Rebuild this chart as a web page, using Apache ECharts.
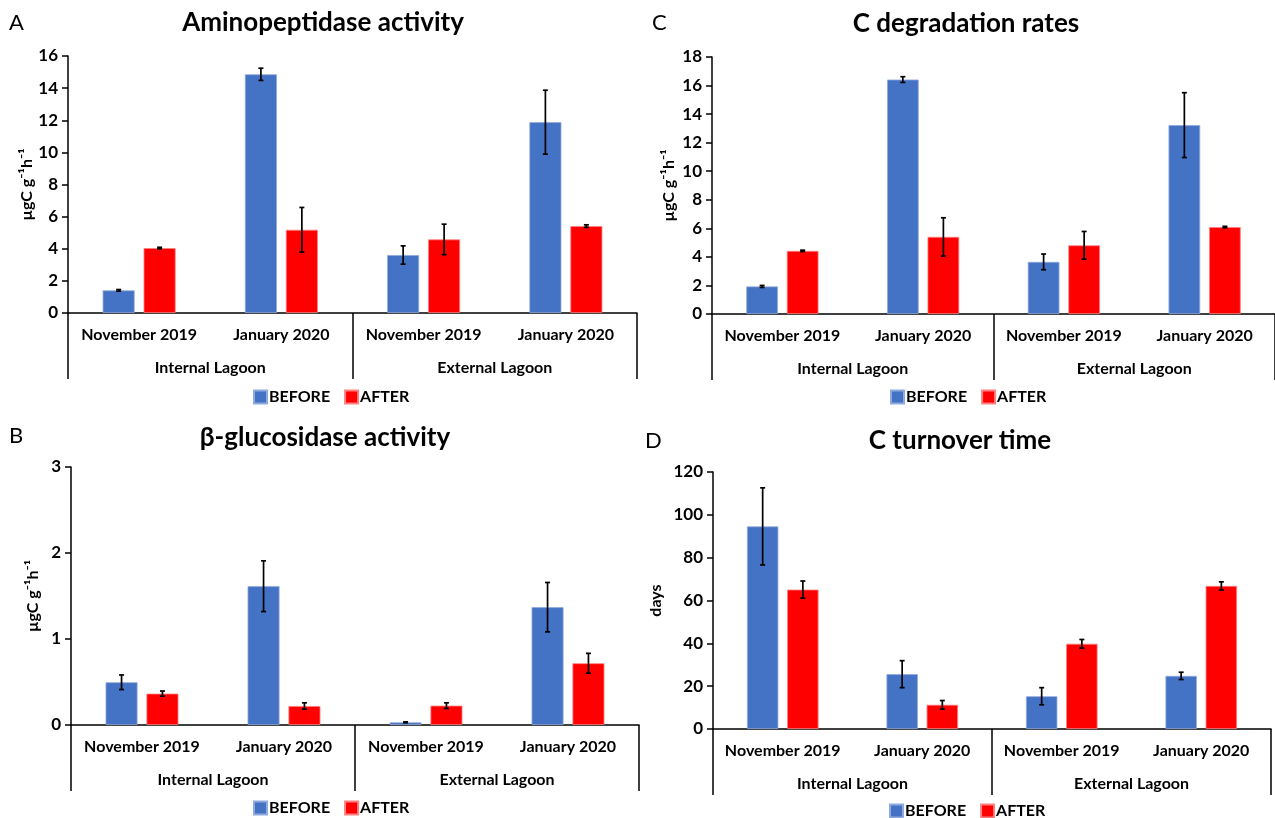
<!DOCTYPE html>
<html>
<head>
<meta charset="utf-8">
<script src="https://cdn.jsdelivr.net/npm/echarts@6/dist/echarts.min.js"></script>
<style>
html,body{margin:0;padding:0;background:#fff;}
#chart{width:1275px;height:818px;}
</style>
</head>
<body>
<div id="chart"></div>
<script>
// ---- Data ----
const months = ['November 2019', 'January 2020', 'November 2019', 'January 2020'];
const groups = ['Internal Lagoon', 'External Lagoon'];
const seriesNames = ['BEFORE', 'AFTER'];

// A: Aminopeptidase activity
const aminoBefore = [1.41, 14.86, 3.61, 11.88];
const aminoBeforeErr = [0.05, 0.38, 0.57, 1.99];
const aminoAfter = [4.04, 5.18, 4.58, 5.41];
const aminoAfterErr = [0.05, 1.39, 0.95, 0.08];

// C: C degradation rates
const degBefore = [1.93, 16.42, 3.65, 13.23];
const degBeforeErr = [0.07, 0.2, 0.55, 2.27];
const degAfter = [4.42, 5.40, 4.81, 6.09];
const degAfterErr = [0.05, 1.34, 0.97, 0.05];

// B: beta-glucosidase activity
const glucBefore = [0.497, 1.614, 0.031, 1.37];
const glucBeforeErr = [0.085, 0.295, 0.005, 0.287];
const glucAfter = [0.365, 0.221, 0.225, 0.718];
const glucAfterErr = [0.03, 0.037, 0.033, 0.115];

// D: C turnover time
const turnBefore = [94.6, 25.6, 15.3, 24.8];
const turnBeforeErr = [18, 6.3, 4, 1.7];
const turnAfter = [65.1, 11.3, 39.8, 66.8];
const turnAfterErr = [4, 2, 2, 1.9];

// ---- Layout / style ----
const FONT = 'Lato, "Open Sans", sans-serif';
const BLUE = '#4472C4';
const RED = '#FF0000';
const BAR_FRAC = 0.225;
const GAP_FRAC = 0.28;
const UNIT = '\u00b5gC g\u207b\u00b9h\u207b\u00b9';

const panels = [
  { letter: 'A', title: 'Aminopeptidase activity', grid: {left: 68, top: 56, width: 569, height: 257},
    max: 16, interval: 2, yName: UNIT, nameGap: 33,
    before: aminoBefore, beforeErr: aminoBeforeErr, after: aminoAfter, afterErr: aminoAfterErr,
    titleX: 323, titleY: 10, letterX: 9, letterY: 12, legendX: 253, legendY: 389 },
  { letter: 'C', title: 'C degradation rates', grid: {left: 712, top: 57, width: 564, height: 257},
    max: 18, interval: 2, yName: UNIT, nameGap: 35,
    before: degBefore, beforeErr: degBeforeErr, after: degAfter, afterErr: degAfterErr,
    titleX: 966, titleY: 11, letterX: 652, letterY: 12, legendX: 890, legendY: 389 },
  { letter: 'B', title: '\u03b2-glucosidase activity', grid: {left: 71, top: 467, width: 568, height: 258},
    max: 3, interval: 1, yName: UNIT, nameGap: 30,
    before: glucBefore, beforeErr: glucBeforeErr, after: glucAfter, afterErr: glucAfterErr,
    titleX: 325, titleY: 425, letterX: 9, letterY: 425, legendX: 253, legendY: 800 },
  { letter: 'D', title: 'C turnover time', grid: {left: 713, top: 472, width: 558, height: 257},
    max: 120, interval: 20, yName: 'days', nameGap: 49,
    before: turnBefore, beforeErr: turnBeforeErr, after: turnAfter, afterErr: turnAfterErr,
    titleX: 960, titleY: 428, letterX: 645, letterY: 430, legendX: 889, legendY: 803 }
];

function errRender(sign) {
  return function (params, api) {
    const x = api.value(0);
    const lo = api.coord([x, api.value(1)]);
    const hi = api.coord([x, api.value(2)]);
    const bw = api.size([1, 0])[0];
    const barW = bw * BAR_FRAC;
    const gap = barW * GAP_FRAC;
    const cx = lo[0] + sign * (barW + gap) / 2;
    const hw = 2.5;
    const st = {stroke: '#000', lineWidth: 1.7};
    return {
      type: 'group',
      children: [
        {type: 'line', shape: {x1: cx, y1: lo[1], x2: cx, y2: hi[1]}, style: st},
        {type: 'line', shape: {x1: cx - hw, y1: lo[1], x2: cx + hw, y2: lo[1]}, style: st},
        {type: 'line', shape: {x1: cx - hw, y1: hi[1], x2: cx + hw, y2: hi[1]}, style: st}
      ]
    };
  };
}

const option = {
  backgroundColor: '#fff',
  animation: false,
  textStyle: {fontFamily: FONT},
  title: [], grid: [], xAxis: [], yAxis: [], legend: [], series: []
};

panels.forEach((p, i) => {
  option.title.push({
    text: p.title, left: p.titleX, top: p.titleY, textAlign: 'center', padding: 0,
    textStyle: {fontFamily: FONT, fontSize: 26, fontWeight: 'bold', color: '#000'}
  });
  option.title.push({
    text: p.letter, left: p.letterX, top: p.letterY, padding: 0,
    textStyle: {fontFamily: FONT, fontSize: 22, fontWeight: 'normal', color: '#000'}
  });
  option.grid.push(Object.assign({containLabel: false}, p.grid));

  // month axis
  option.xAxis.push({
    type: 'category', gridIndex: i, data: months, position: 'bottom',
    axisLine: {show: true, lineStyle: {color: '#000', width: 1.5}},
    axisTick: {show: false},
    axisLabel: {interval: 0, margin: 14, color: '#000', fontFamily: FONT, fontSize: 16, fontWeight: 'bold'},
    splitLine: {show: false}
  });
  // group axis
  option.xAxis.push({
    type: 'category', gridIndex: i, data: groups, position: 'bottom', offset: 0,
    axisLine: {show: false},
    axisTick: {show: true, length: 66, lineStyle: {color: '#000', width: 1.5}},
    axisLabel: {interval: 0, margin: 47, color: '#000', fontFamily: FONT, fontSize: 16, fontWeight: 'bold'},
    splitLine: {show: false}
  });

  option.yAxis.push({
    type: 'value', gridIndex: i, min: 0, max: p.max, interval: p.interval,
    name: p.yName, nameLocation: 'middle', nameRotate: 90, nameGap: p.nameGap,
    nameTextStyle: {color: '#000', fontFamily: FONT, fontSize: 16, fontWeight: 'bold'},
    axisLine: {show: true, lineStyle: {color: '#000', width: 1.5}},
    axisTick: {show: true, length: 6, lineStyle: {color: '#000', width: 1.5}},
    axisLabel: {margin: 10, color: '#000', fontFamily: FONT, fontSize: 17, fontWeight: 'bold'},
    splitLine: {show: false}
  });

  option.legend.push({
    data: seriesNames, left: p.legendX, top: p.legendY, padding: 0,
    itemWidth: 13, itemHeight: 13, itemGap: 14, icon: 'rect',
    textStyle: {fontFamily: FONT, fontSize: 16, fontWeight: 'bold', color: '#000', padding: [0, 0, 0, -3]},
    selectedMode: false
  });

  const xi = i * 2;
  option.series.push({
    name: 'BEFORE', type: 'bar', xAxisIndex: xi, yAxisIndex: i, data: p.before,
    barWidth: (BAR_FRAC * 100) + '%', barGap: (GAP_FRAC * 100) + '%',
    itemStyle: {color: BLUE, borderColor: '#8FAADC', borderWidth: 0.8}
  });
  option.series.push({
    name: 'AFTER', type: 'bar', xAxisIndex: xi, yAxisIndex: i, data: p.after,
    barWidth: (BAR_FRAC * 100) + '%', barGap: (GAP_FRAC * 100) + '%',
    itemStyle: {color: RED, borderColor: '#FF8080', borderWidth: 0.8}
  });
  option.series.push({
    name: 'errB' + i, type: 'custom', xAxisIndex: xi, yAxisIndex: i, z: 10,
    renderItem: errRender(-1),
    encode: {x: 0, y: [1, 2]},
    data: p.before.map((v, k) => [k, v - p.beforeErr[k], v + p.beforeErr[k]])
  });
  option.series.push({
    name: 'errA' + i, type: 'custom', xAxisIndex: xi, yAxisIndex: i, z: 10,
    renderItem: errRender(1),
    encode: {x: 0, y: [1, 2]},
    data: p.after.map((v, k) => [k, v - p.afterErr[k], v + p.afterErr[k]])
  });
});

const chart = echarts.init(document.getElementById('chart'), null, {renderer: 'canvas'});
chart.setOption(option);
</script>
</body>
</html>
